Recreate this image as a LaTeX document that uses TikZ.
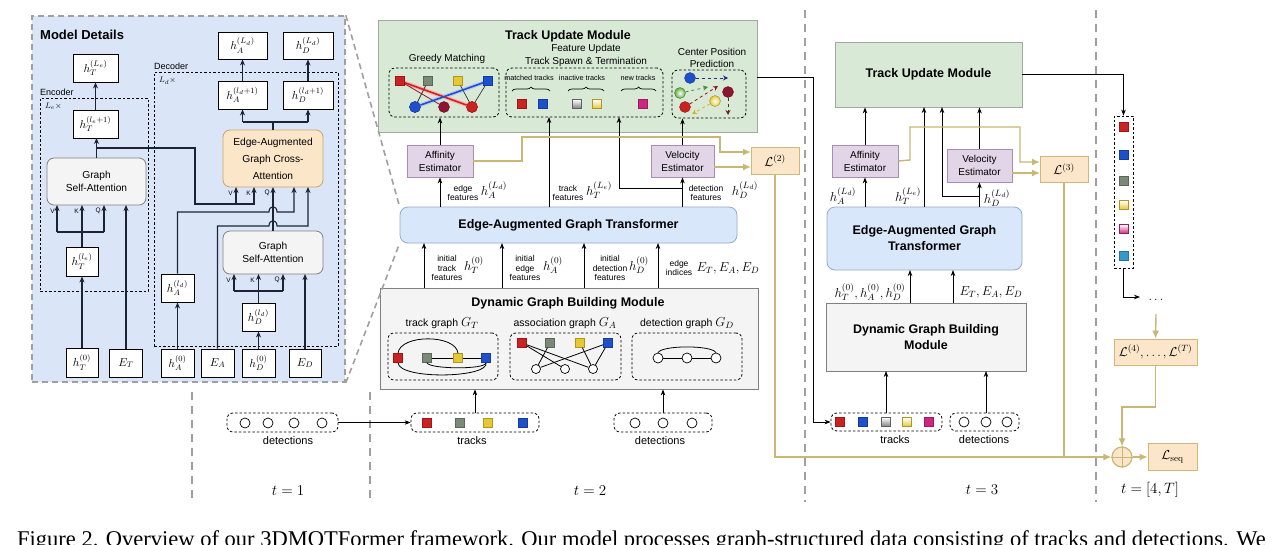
\RequirePackage{fix-cm}
\documentclass[tikz,border=0pt]{standalone}
\usepackage[no-math]{fontspec}
\setmainfont{Liberation Serif}
\setsansfont{Liberation Sans}
\usetikzlibrary{arrows.meta,decorations.pathreplacing}
\definecolor{panelblue}{HTML}{DAE6F8}
\definecolor{sepgray}{HTML}{A0A0A0}
\definecolor{wire}{HTML}{1C2433}
\definecolor{grayfill}{HTML}{F4F4F4}
\definecolor{caborder}{HTML}{C9A46A}
\definecolor{lossfill}{HTML}{FCE6C9}
\definecolor{lossborder}{HTML}{D2B77A}
\definecolor{gold}{HTML}{C9B873}
\definecolor{tumgreen}{HTML}{D8EAD6}
\definecolor{tumborder}{HTML}{A0A8A0}
\definecolor{estfill}{HTML}{E3D5E8}
\definecolor{estborder}{HTML}{A58DB3}
\definecolor{eagtfill}{HTML}{D9E7FA}
\definecolor{eagtborder}{HTML}{95AACB}
\definecolor{cred}{HTML}{CC2222}
\definecolor{cgray}{HTML}{7A8A76}
\definecolor{cyellow}{HTML}{E6C832}
\definecolor{cblue}{HTML}{1E50CC}
\definecolor{cmag}{HTML}{CC2680}
\definecolor{cdarkred}{HTML}{8C1530}
\definecolor{ccyan}{HTML}{3398CC}
\definecolor{cpink}{HTML}{E08CC0}
\definecolor{cgreen}{HTML}{5DAE3E}
\definecolor{cnavy}{HTML}{2A2A8C}
\definecolor{cbrown}{HTML}{5A2A20}
\begin{document}
\begin{tikzpicture}[x=1pt,y=-1pt,
  every node/.style={font=\sffamily},
  panel/.style={draw=sepgray, line width=1.6pt, dash pattern=on 6pt off 4pt, fill=panelblue, inner sep=0pt},
  dbox/.style={draw=black, line width=0.8pt, dash pattern=on 2.5pt off 2pt, inner sep=0pt},
  rdbox/.style={dbox, rounded corners=6pt},
  wbox/.style={draw=black, fill=white, line width=0.9pt, inner sep=0pt, font=\fontsize{11.5}{13}\selectfont},
  gsabox/.style={draw=gray, fill=grayfill, rounded corners=7pt, line width=0.8pt, inner sep=0pt, align=center, font=\sffamily\fontsize{10.2}{13}\selectfont},
  cabox/.style={draw=caborder, fill=lossfill, rounded corners=7pt, line width=0.8pt, inner sep=0pt, align=center, font=\sffamily\fontsize{10.2}{17}\selectfont},
  vkq/.style={font=\sffamily\fontsize{6.5}{7}\selectfont, inner sep=0pt},
  pw/.style={draw=wire, line width=1.1pt},
  pa/.style={pw, -{Stealth[length=6pt,width=5pt]}},
  aw/.style={draw=black, line width=0.8pt},
  aa/.style={aw, -{Stealth[length=6pt,width=4.5pt]}},
  gl/.style={draw=gold, line width=1.4pt},
  ga/.style={gl, -{Latex[length=8pt,width=7pt]}},
  sepl/.style={draw=sepgray, line width=2.6pt, dash pattern=on 8pt off 6pt},
  tum/.style={draw=tumborder, fill=tumgreen, line width=0.8pt, inner sep=0pt, align=center, font=\sffamily\bfseries\fontsize{12.5}{15}\selectfont},
  est/.style={draw=estborder, fill=estfill, line width=0.8pt, inner sep=0pt, align=center, font=\sffamily\fontsize{10}{13}\selectfont},
  eagt/.style={draw=eagtborder, fill=eagtfill, rounded corners=8pt, line width=0.8pt, inner sep=0pt, align=center, font=\sffamily\bfseries\fontsize{12.5}{16}\selectfont},
  dgbm/.style={draw=gray, fill=grayfill, line width=0.8pt, inner sep=0pt, align=center, font=\sffamily\bfseries\fontsize{12.5}{16}\selectfont},
  lbox/.style={draw=lossborder, fill=lossfill, line width=0.8pt, inner sep=0pt, font=\fontsize{13}{15}\selectfont},
  ttl/.style={font=\sffamily\bfseries\fontsize{12.5}{15}\selectfont, inner sep=0pt},
  subt/.style={font=\sffamily\fontsize{10}{13}\selectfont, inner sep=0pt, align=center},
  sml/.style={font=\sffamily\fontsize{8.5}{9.8}\selectfont, inner sep=0pt, align=center},
  tinyl/.style={font=\sffamily\fontsize{7.3}{8}\selectfont, inner sep=0pt},
  mth/.style={font=\fontsize{13}{15}\selectfont, inner sep=0pt},
  tlab/.style={font=\fontsize{15}{17}\selectfont, inner sep=0pt},
  capl/.style={font=\sffamily\fontsize{11}{13}\selectfont, inner sep=0pt},
  sqr/.style={rectangle, minimum size=9pt, inner sep=0pt, fill=#1, draw=#1!75!black, line width=0.4pt},
  sqg/.style={rectangle, minimum size=9pt, inner sep=0pt, top color=white, bottom color=#1, draw=#1!75!black, line width=0.4pt},
  cirw/.style={circle, minimum size=9pt, inner sep=0pt, draw=black, fill=white, line width=0.7pt},
  circ/.style={circle, minimum size=11pt, inner sep=0pt, fill=#1, draw=#1!70!black, line width=0.4pt},
  cirg/.style={circle, minimum size=11pt, inner sep=0pt, inner color=white, outer color=#1, draw=#1!70!black, line width=0.4pt},
  gedge/.style={draw=black!80, line width=0.7pt},
  tedge/.style={draw=black, line width=0.8pt}
]
\useasboundingbox (0,0) rectangle (1279,544);
\fill[white] (0,0) rectangle (1279,544);

% ---------- separators ----------
\draw[sepl] (192,392) -- (192,502);
\draw[sepl] (370,392) -- (370,502);
\draw[sepl] (805,10) -- (805,502);
\draw[sepl] (1096,10) -- (1096,502);

% ---------- Model details panel ----------
\node[panel, minimum width=313, minimum height=366] (panel) at (188.5,199) {};
\node[anchor=west, inner sep=0pt, font=\sffamily\bfseries\fontsize{13}{15}\selectfont] (mdtitle) at (40,35) {Model Details};
\node[dbox, minimum width=108, minimum height=193] (enc) at (94,194.5) {};
\node[anchor=south west, inner sep=1pt, font=\sffamily\fontsize{9}{10}\selectfont] (enclbl) at (39,97) {Encoder};
\node[anchor=north west, inner sep=1pt, font=\fontsize{8}{9}\selectfont] (encx) at (44,102) {$L_e\times$};
\node[dbox, minimum width=184, minimum height=274] (dec) at (246,209) {};
\node[anchor=south west, inner sep=1pt, font=\sffamily\fontsize{9}{10}\selectfont] (declbl) at (153,71) {Decoder};
\node[anchor=north west, inner sep=1pt, font=\fontsize{8}{9}\selectfont] (decx) at (158,76) {$L_d\times$};

\node[wbox, minimum width=45, minimum height=28] (hTLe) at (95.5,68) {$h_T^{(L_e)}$};
\node[wbox, minimum width=45, minimum height=28] (hTle1) at (95.5,124) {$h_T^{(l_e+1)}$};
\node[gsabox, minimum width=99, minimum height=47] (gsaE) at (96.5,181.5) {Graph\\Self-Attention};
\node[wbox, minimum width=32, minimum height=29] (hTle) at (82,261.5) {$h_T^{(l_e)}$};
\node[wbox, minimum width=32, minimum height=29] (hT0) at (82,362.5) {$h_T^{(0)}$};
\node[wbox, minimum width=33, minimum height=28] (ET) at (126,363) {$E_T$};
\node[wbox, minimum width=33, minimum height=28] (hA0) at (177.5,363) {$h_A^{(0)}$};
\node[wbox, minimum width=33, minimum height=28] (EA) at (217.5,363) {$E_A$};
\node[wbox, minimum width=33, minimum height=28] (hD0) at (258.5,363) {$h_D^{(0)}$};
\node[wbox, minimum width=32, minimum height=28] (ED) at (305,363) {$E_D$};
\node[wbox, minimum width=33, minimum height=28] (hAld) at (177.5,288) {$h_A^{(l_d)}$};
\node[wbox, minimum width=33, minimum height=28] (hDld) at (258.5,317) {$h_D^{(l_d)}$};
\node[gsabox, minimum width=100, minimum height=43] (gsaD) at (273,252.5) {Graph\\Self-Attention};
\node[cabox, minimum width=100, minimum height=57] (cross) at (273,158.5) {Edge-Augmented\\Graph Cross-\\Attention};
\node[wbox, minimum width=49, minimum height=28] (hAld1) at (242.5,95) {$h_A^{(l_d+1)}$};
\node[wbox, minimum width=50, minimum height=28] (hDld1) at (308,95) {$h_D^{(l_d+1)}$};
\node[wbox, minimum width=49, minimum height=27] (hALd) at (242.5,45.5) {$h_A^{(L_d)}$};
\node[wbox, minimum width=50, minimum height=27] (hDLd) at (308,45.5) {$h_D^{(L_d)}$};

% VKQ labels
\node[vkq, anchor=east] (v1) at (55,211) {V};
\node[vkq, anchor=east] (k1) at (79,211) {K};
\node[vkq, anchor=east] (q1) at (101,211) {Q};
\node[vkq, anchor=east] (v2) at (233,193) {V};
\node[vkq, anchor=east] (k2) at (251,193) {K};
\node[vkq, anchor=east] (q2) at (270,193) {Q};
\node[vkq, anchor=east] (v3) at (231,280) {V};
\node[vkq, anchor=east] (k3) at (255,280) {K};
\node[vkq, anchor=east] (q3) at (280,280) {Q};

% encoder wires
\draw[pa] (hT0) -- (hTle);
\draw[pa] (hTle.north) -- (82,205);
\draw[pw] (57,232) -- (104,232);
\draw[pa] (57,232) -- (57,205);
\draw[pa] (104,232) -- (104,205);
\draw[pa] (ET.north) -- (126,205);
\draw[pa] (96.5,158) -- (96.5,138);
\draw[pa] (hTle1) -- (hTLe);
\draw[pw] (96.5,148) -- (195,148) -- (195,204) -- (236,204);
\draw[pa] (236,204) -- (236,187);
\draw[pa] (236,204) -- (254,204) -- (254,187);
% decoder wires
\draw[pa] (hA0) -- (hAld);
\draw[pa] (hD0) -- (hDld);
\draw[pa] (ED.north) -- (305,274);
\draw[pa] (hDld.north) -- (258.5,274);
\draw[pw] (234,291) -- (283,291);
\draw[pa] (234,291) -- (234,274);
\draw[pa] (283,291) -- (283,274);
\draw[pa] (gsaD.north) -- (273,187);
\draw[pa] (hAld.north) -- (177.5,212) -- (269,212) .. controls (269,205) and (277,205) .. (277,212) -- (294,212) -- (294,187);
\draw[pa] (EA.north) -- (217.5,226) -- (269,226) .. controls (269,219) and (277,219) .. (277,226) -- (308,226) -- (308,187);
\draw[pw] (cross.north) -- (273,122);
\draw[pw] (242.5,122) -- (308,122);
\draw[pa] (242.5,122) -- (hAld1.south);
\draw[pa] (308,122) -- (hDld1.south);
\draw[pa] (hAld1) -- (hALd);
\draw[pa] (hDld1) -- (hDLd);

% ---------- t = 2 ----------
\node[tum, minimum width=379, minimum height=112] (tum2) at (567.5,76) {};
\node[ttl] (tum2t) at (568,36) {Track Update Module};
\node[subt] (gmt) at (447,59) {Greedy Matching};
\node[subt, font=\sffamily\fontsize{10}{13}\selectfont] (fut) at (586,55.5) {Feature Update\\Track Spawn \& Termination};
\node[subt, font=\sffamily\fontsize{10}{12}\selectfont] (cpt) at (712,58) {Center Position\\Prediction};
\node[rdbox, minimum width=110, minimum height=49] (gm) at (444,92.5) {};
\node[rdbox, minimum width=157, minimum height=49] (fu) at (584.5,92.5) {};
\node[rdbox, minimum width=74, minimum height=48] (cp) at (709,94) {};

% greedy matching
\node[sqr=cred] (g1) at (400,81) {};
\node[sqr=cgray] (g2) at (428,81) {};
\node[sqr=cyellow] (g3) at (458,81) {};
\node[sqr=cblue] (g4) at (488,81) {};
\node[circ=cblue] (gc1) at (415,107) {};
\node[circ=cdarkred] (gc2) at (444,107) {};
\node[circ=cred] (gc3) at (472,107) {};
\draw[draw=red!30, line width=4pt] (g1.center) -- (gc3.center);
\draw[draw=cblue!30, line width=4pt] (g4.center) -- (gc1.center);
\draw[draw=cdarkred, line width=0.8pt] (g1) -- (gc2);
\draw[gedge] (g2) -- (gc1);
\draw[gedge] (g3) -- (gc3);
\draw[gedge] (g4) -- (gc3);
\draw[draw=cred, line width=1.6pt] (g1) -- (gc3);
\draw[draw=cblue, line width=1.6pt] (g4) -- (gc1);
\node[sqr=cred] at (g1) {};
\node[sqr=cblue] at (g4) {};
\node[circ=cblue] at (gc1) {};
\node[circ=cred] at (gc3) {};

% feature update
\node[tinyl] (mt) at (529,78) {matched tracks};
\node[tinyl] (it) at (582,78) {inactive tracks};
\node[tinyl] (nt) at (638,78) {new tracks};
\draw[decorate, decoration={brace, amplitude=4pt}, line width=0.7pt] (512,91) -- (550,91);
\draw[decorate, decoration={brace, amplitude=4pt}, line width=0.7pt] (568,91) -- (604,91);
\draw[decorate, decoration={brace, amplitude=4pt}, line width=0.7pt] (621,91) -- (656,91);
\node[sqr=cred] (f1) at (522,104) {};
\node[sqr=cblue] (f2) at (543,104) {};
\node[sqg=gray] (f3) at (577,104) {};
\node[sqg=cyellow] (f4) at (597,104) {};
\node[sqr=cmag] (f5) at (643,104) {};

% center position prediction
\node[circ=cblue] (cb) at (690,78) {};
\node[cirg=cgreen] (cg) at (680,93) {};
\node[circ=cdarkred] (cdr) at (728,92) {};
\node[cirg=cyellow] (cy) at (715,101) {};
\node[circ=cred] (cr) at (685,107) {};
\coordinate (cbe) at (728,78);
\coordinate (cge) at (708,87);
\coordinate (cre) at (718,86);
\coordinate (cye) at (692,114);
\coordinate (cdre) at (728,115);
\draw[draw=cnavy, line width=0.8pt, dashed, -{Stealth[length=5pt,width=5pt]}] (cb) -- (cbe);
\draw[draw=cgreen!80!black, line width=0.8pt, dashed, -{Stealth[length=5pt,width=5pt]}] (cg) -- (cge);
\draw[draw=cdarkred, line width=0.8pt, dashed, -{Stealth[length=5pt,width=5pt]}] (cr) -- (cre);
\draw[draw=cyellow!90!black, line width=0.8pt, dashed, -{Stealth[length=5pt,width=5pt]}] (cy) -- (cye);
\draw[draw=cbrown, line width=0.8pt, dashed, -{Stealth[length=5pt,width=5pt]}] (cdr) -- (cdre);

% estimators and EAGT
\node[est, minimum width=66, minimum height=32] (aff2) at (440,161) {Affinity\\Estimator};
\node[est, minimum width=63, minimum height=32] (vel2) at (682.5,161) {Velocity\\Estimator};
\node[lbox, minimum width=48, minimum height=27] (L2) at (775,160.5) {$\mathcal{L}^{(2)}$};
\node[eagt, minimum width=337, minimum height=36] (eagt2) at (568.5,225) {Edge-Augmented Graph Transformer};

\draw[aa] (aff2.north) -- (aff2.north |- gm.south);
\draw[aa] (vel2.north) -- (vel2.north |- cp.south);
\draw[aa] (eagt2.north -| aff2.south) -- (aff2.south);
\draw[aa] (eagt2.north -| vel2.south) -- (vel2.south);
\draw[aa] (549,207) -- (549,117);
\draw[aa] (682.5,188) -- (619,188) -- (619,117);

\node[sml] (ef) at (463,193) {edge\\features};
\node[mth] (hAL) at (494,190) {$h_A^{(L_d)}$};
\node[sml] (tf) at (568,193) {track\\features};
\node[mth] (hTL) at (599,190) {$h_T^{(L_e)}$};
\node[sml] (df) at (706,193) {detection\\features};
\node[mth] (hDL) at (745,190) {$h_D^{(L_d)}$};

% gold lines t=2
\draw[ga] (aff2.east) -- (522,161) -- (522,137) -- (720,137) -- (720,152) -- (751,152);
\draw[ga] (714,167) -- (751,167);

% DGBM t=2
\node[dgbm, minimum width=378, minimum height=101] (dgbm2) at (569,338.5) {};
\node[ttl] (dgbm2t) at (568,303) {Dynamic Graph Building Module};
\node[subt, font=\sffamily\fontsize{10.5}{13}\selectfont] (tgt) at (442,323) {track graph \fontsize{13}{15}\selectfont$G_T$};
\node[subt, font=\sffamily\fontsize{10.5}{13}\selectfont] (agt) at (565,323) {association graph \fontsize{13}{15}\selectfont$G_A$};
\node[subt, font=\sffamily\fontsize{10.5}{13}\selectfont] (dgt) at (687,323) {detection graph \fontsize{13}{15}\selectfont$G_D$};
\node[rdbox, minimum width=110, minimum height=47] (tgb) at (443,356.5) {};
\node[rdbox, minimum width=111, minimum height=47] (agb) at (565.5,356.5) {};
\node[rdbox, minimum width=110, minimum height=47] (dgb) at (687,356.5) {};

% track graph
\node[sqr=cred] (tg1) at (398,358) {};
\node[sqr=cgray] (tg2) at (427,358) {};
\node[sqr=cyellow] (tg3) at (458,358) {};
\node[sqr=cblue] (tg4) at (486,358) {};
\draw[tedge] (tg2) -- (tg3);
\draw[tedge] (tg3) -- (tg4);
\draw[tedge] (tg1.north) .. controls (400,334) and (456,334) .. (tg3.north);
\draw[tedge] (tg1.south) .. controls (399,380) and (490,378) .. (tg4.south);
\draw[tedge] (tg2.south) .. controls (428,369) and (486,370) .. (tg4.south);
\node[sqr=cred] at (tg1) {};
\node[sqr=cblue] at (tg4) {};

% association graph
\node[sqr=cred] (ag1) at (522,343) {};
\node[sqr=cgray] (ag2) at (550,343) {};
\node[sqr=cyellow] (ag3) at (580,343) {};
\node[sqr=cblue] (ag4) at (608,343) {};
\node[cirw] (ac1) at (536,369) {};
\node[cirw] (ac2) at (565,369) {};
\node[cirw] (ac3) at (593,369) {};
\draw[tedge] (ag1) -- (ac2);
\draw[tedge] (ag1) -- (ac3);
\draw[tedge] (ag2) -- (ac1);
\draw[tedge] (ag3) -- (ac3);
\draw[tedge] (ag4) -- (ac1);
\draw[tedge] (ag4) -- (ac3);

% detection graph
\node[cirw, minimum size=10pt] (dg1) at (658,358) {};
\node[cirw, minimum size=10pt] (dg2) at (687,358) {};
\node[cirw, minimum size=10pt] (dg3) at (716,358) {};
\draw[tedge] (dg1) -- (dg2);
\draw[tedge] (dg2) -- (dg3);
\draw[tedge] (dg1.north) .. controls (662,345) and (712,345) .. (dg3.north);

% arrows DGBM -> EAGT
\draw[aa] (424,288) -- (424,243);
\draw[aa] (502,288) -- (502,243);
\draw[aa] (584,288) -- (584,243);
\draw[aa] (658,288) -- (658,243);
\node[sml] (itf) at (447,268) {initial\\track\\features};
\node[mth] (hT0l) at (474,265) {$h_T^{(0)}$};
\node[sml] (ief) at (525,268) {initial\\edge\\features};
\node[mth] (hA0l) at (553,265) {$h_A^{(0)}$};
\node[sml] (idf) at (610,268) {initial\\detection\\features};
\node[mth] (hD0l) at (639,265) {$h_D^{(0)}$};
\node[sml] (eil) at (679,268) {edge\\indices};
\node[mth] (Eall) at (728,268) {$E_T,E_A,E_D$};

% inputs t=2
\node[rdbox, minimum width=128, minimum height=19] (tr2) at (475,422.5) {};
\node[sqr=cred] (ts1) at (427,423) {};
\node[sqr=cgray] (ts2) at (460,423) {};
\node[sqr=cyellow] (ts3) at (488,423) {};
\node[sqr=cblue] (ts4) at (523,423) {};
\node[capl] (trl2) at (472,441) {tracks};
\node[rdbox, minimum width=98, minimum height=19] (de2) at (663,422.5) {};
\node[cirw, minimum size=10pt] (ds1) at (635,423) {};
\node[cirw, minimum size=10pt] (ds2) at (663,423) {};
\node[cirw, minimum size=10pt] (ds3) at (692,423) {};
\node[capl] (del2) at (660,441) {detections};
\draw[aa] (tr2.north) -- (tr2.north |- dgbm2.south);
\draw[aa] (de2.north) -- (de2.north |- dgbm2.south);

% t = 1
\node[rdbox, minimum width=111, minimum height=19] (de1) at (282.5,422.5) {};
\node[cirw, minimum size=10pt] (d11) at (245,423) {};
\node[cirw, minimum size=10pt] (d12) at (268,423) {};
\node[cirw, minimum size=10pt] (d13) at (294,423) {};
\node[cirw, minimum size=10pt] (d14) at (322,423) {};
\node[capl] (del1) at (288,441) {detections};
\draw[aa] (de1.east) -- (tr2.west);

% zoom lines
\draw[draw=sepgray, line width=1.6pt, dash pattern=on 6pt off 4pt] (panel.north east) -- (eagt2.north west);
\draw[draw=sepgray, line width=1.6pt, dash pattern=on 6pt off 4pt] (panel.south east) -- (eagt2.south west);

% ---------- t = 3 ----------
\node[tum, minimum width=187, minimum height=65] (tum3) at (928.5,74.5) {Track Update Module};
\node[est, minimum width=66, minimum height=32] (aff3) at (865,161) {Affinity\\Estimator};
\node[est, minimum width=65, minimum height=33] (vel3) at (979.5,165.5) {Velocity\\Estimator};
\node[lbox, minimum width=48, minimum height=26] (L3) at (1064,169) {$\mathcal{L}^{(3)}$};
\node[eagt, minimum width=195, minimum height=63] (eagt3) at (924.5,238.5) {Edge-Augmented Graph\\Transformer};
\node[dgbm, minimum width=200, minimum height=68] (dgbm3) at (926,337) {Dynamic Graph Building\\Module};

\draw[aa] (aff3.north) -- (aff3.north |- tum3.south);
\draw[aa] (vel3.north) -- (vel3.north |- tum3.south);
\draw[aa] (eagt3.north -| aff3.south) -- (aff3.south);
\draw[aa] (eagt3.north -| vel3.south) -- (vel3.south);
\draw[aa] (924,207) -- (924,107);
\draw[aa] (979.5,196) -- (942,196) -- (942,107);
\node[mth] (hAL3) at (843,196) {$h_A^{(L_d)}$};
\node[mth] (hTL3) at (908,196) {$h_T^{(L_e)}$};
\node[mth] (hDL3) at (997,198) {$h_D^{(L_d)}$};
\draw[ga] (aff3.east) -- (910,160) -- (910,127) -- (1020,127) -- (1020,162) -- (1040,162);
\draw[ga] (1012,173) -- (1040,173);

\draw[aa] (910,303) -- (910,270);
\draw[aa] (953,303) -- (953,270);
\node[mth] (h03) at (870,292) {$h_T^{(0)},h_A^{(0)},h_D^{(0)}$};
\node[mth] (E3) at (991,292) {$E_T,E_A,E_D$};

\node[rdbox, minimum width=111, minimum height=18] (tr3) at (886.5,422) {};
\node[sqr=cred] (t31) at (840,422) {};
\node[sqr=cblue] (t32) at (863,422) {};
\node[sqg=gray] (t33) at (886,422) {};
\node[sqg=cyellow] (t34) at (907,422) {};
\node[sqr=cmag] (t35) at (929,422) {};
\node[capl] (trl3) at (895,440) {tracks};
\node[rdbox, minimum width=69, minimum height=18] (de3) at (984.5,422) {};
\node[cirw, minimum size=10pt] (d31) at (964,422) {};
\node[cirw, minimum size=10pt] (d32) at (986,422) {};
\node[cirw, minimum size=10pt] (d33) at (1007,422) {};
\node[capl] (del3) at (984,440) {detections};
\draw[aa] (886,413) -- (886,371);
\draw[aa] (986,413) -- (986,371);

% TUM2 -> tracks t=3
\draw[aa] (757,77) -- (813,77) -- (813,422) -- (tr3.west);

% ---------- t = [4,T] ----------
\node[dbox, minimum width=19, minimum height=152] (col) at (1123.5,192) {};
\node[sqr=cred] (c1) at (1123.5,127) {};
\node[sqr=cblue] (c2) at (1123.5,155) {};
\node[sqr=cgray] (c3) at (1123.5,181) {};
\node[sqg=cyellow] (c4) at (1123.5,205) {};
\node[sqg=cmag] (c5) at (1123.5,229) {};
\node[sqr=ccyan] (c6) at (1123.5,256) {};
\draw[aa] (tum3.east) -- (1123.5,74.5) -- (col.north);
\node[inner sep=1pt, font=\fontsize{13}{15}\selectfont] (dots) at (1156,300) {$\dots$};
\draw[aa] (col.south) -- (1123.5,297) -- (1140,297);
\node[lbox, minimum width=83, minimum height=26] (Lmid) at (1155.5,352) {$\mathcal{L}^{(4)},\dots,\mathcal{L}^{(T)}$};
\draw[ga] (1156,314) -- (Lmid.north);
\node[circle, draw=gold, fill=lossfill, line width=1.2pt, minimum size=20pt, inner sep=0pt] (op) at (1122,457) {};
\draw[draw=gold, line width=1pt] (op.north) -- (op.south);
\draw[draw=gold, line width=1pt] (op.west) -- (op.east);
\node[lbox, minimum width=49, minimum height=27] (Lseq) at (1172.5,457) {$\mathcal{L}_{\mathrm{seq}}$};
\draw[ga] (Lmid.south) -- (1155.5,407) -- (1122,407) -- (op.north);
\draw[ga] (op.east) -- (Lseq.west);
\draw[gl] (L3.south) -- (1064,457);
\draw[ga] (L2.south) -- (775,457) -- (op.west);

% time labels
\node[tlab] (t1) at (288,491) {$t=1$};
\node[tlab] (t2) at (590,491) {$t=2$};
\node[tlab] (t3) at (982,490) {$t=3$};
\node[tlab] (t4) at (1150,490) {$t=[4,T]$};

% caption (cut off at the bottom edge, as in the reference)
\begin{scope}
\clip (0,0) rectangle (1279,544);
\node[anchor=base west, inner sep=0pt, font=\rmfamily\fontsize{22.5}{25}\selectfont] (caption) at (17,546) {Figure 2. Overview of our 3DMOTFormer framework. Our model processes graph-structured data consisting of tracks and detections. We};
\end{scope}
\end{tikzpicture}
\end{document}
